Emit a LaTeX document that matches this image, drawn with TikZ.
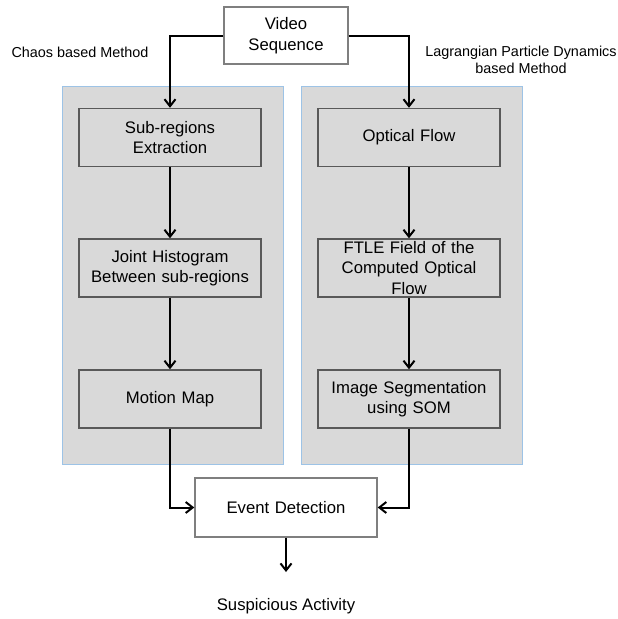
\documentclass[tikz,border=0pt]{standalone}
\usepackage{fontspec}
\setmainfont{Liberation Sans}
\usetikzlibrary{arrows.meta}
\definecolor{panelbg}{HTML}{D9D9D9}
\definecolor{panelline}{HTML}{9DC3E6}
\definecolor{stagebg}{HTML}{D9D9D9}
\definecolor{stageline}{HTML}{595959}
\definecolor{ioline}{HTML}{7F7F7F}
\tikzset{
  panel/.style={fill=panelbg, draw=panelline, line width=0.8pt},
  stage/.style={draw=stageline, fill=stagebg, line width=1.4pt, minimum width=182pt,
    minimum height=58pt, text width=176pt, inner sep=0pt, align=center,
    font=\fontsize{16.7}{20.5}\selectfont},
  io/.style={stage, fill=white, draw=ioline},
  flow/.style={draw=black, line width=2pt, -{Straight Barb[length=7pt,width=11pt]}},
  lab/.style={text=black, font=\fontsize{14.4}{16.5}\selectfont, align=center},
  labbig/.style={text=black, font=\fontsize{16.7}{20.5}\selectfont}
}
\begin{document}
\begin{tikzpicture}[x=1pt,y=-1pt]
  \useasboundingbox (0,0) rectangle (618,619);
  \fill[white] (0,0) rectangle (618,619);
  % the two method panels
  \draw[panel] (62,86) rectangle (283,464);
  \draw[panel] (301,86) rectangle (522,464);
  \node[lab, anchor=base] (chaos) at (80,57) {Chaos based Method};
  \node[lab] (lagr) at (521,60) {Lagrangian Particle Dynamics\\based Method};
  % boxes
  \node[io, minimum width=124pt, text width=116pt, minimum height=57pt] (video) at (286,35.5) {Video\\Sequence};
  \node[stage] (sub) at (170,137.5) {Sub-regions\\Extraction};
  \node[stage] (hist) at (170,268) {Joint Histogram\\Between sub-regions};
  \node[stage] (map) at (170,399) {Motion Map};
  \node[stage] (oflow) at (409,137.5) {Optical Flow};
  \node[stage] (ftle) at (409,268) {FTLE Field of the\\Computed Optical\\Flow};
  \node[stage] (som) at (409,399) {Image Segmentation\\using SOM};
  \node[io, minimum height=59pt] (event) at (286,507.5) {Event Detection};
  \coordinate (actend) at (286,572);
  \node[labbig, anchor=base] (act) at (286,610) {Suspicious Activity};
  % arrows
  \draw[flow] (video.west) -| (sub.north);
  \draw[flow] (video.east) -| (oflow.north);
  \draw[flow] (sub) -- (hist);
  \draw[flow] (hist) -- (map);
  \draw[flow] (oflow) -- (ftle);
  \draw[flow] (ftle) -- (som);
  \draw[flow] (map.south) |- (event.west);
  \draw[flow] (som.south) |- (event.east);
  \draw[flow] (event.south) -- (actend);
\end{tikzpicture}
\end{document}
